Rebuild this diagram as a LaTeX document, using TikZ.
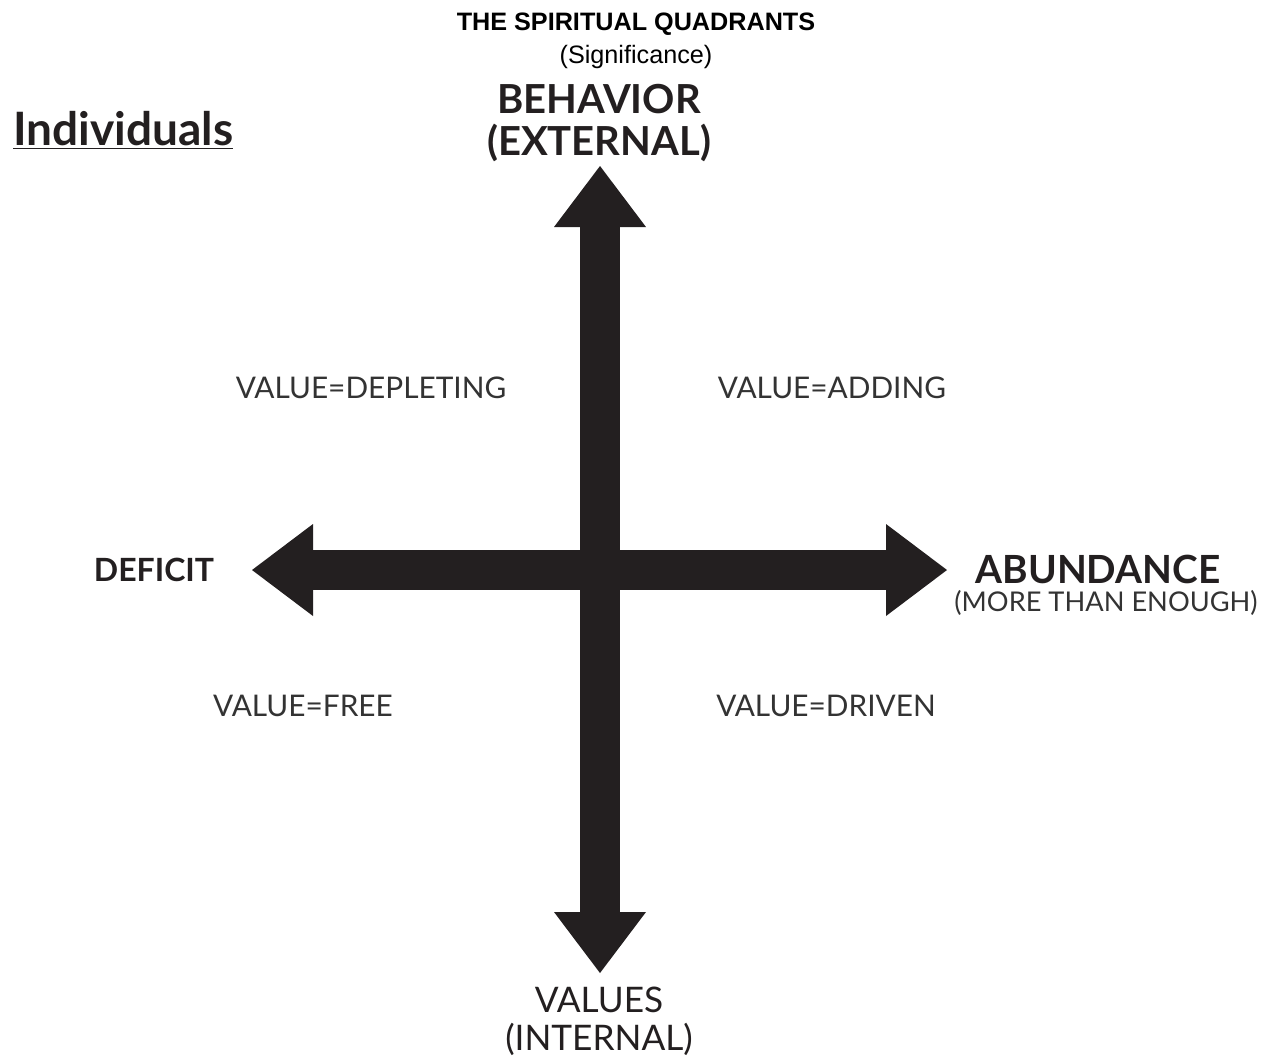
\documentclass[tikz,border=0pt]{standalone}
\usepackage{fontspec}
\setmainfont{Liberation Sans}
\newfontfamily\optfont{Lato}
\usetikzlibrary{arrows.meta, positioning}
\definecolor{ink}{HTML}{231F20}

\begin{document}
\begin{tikzpicture}[x=0.5pt, y=-0.5pt,
    heading/.style={font=\bfseries\fontsize{12.6}{14}\selectfont, inner sep=0pt},
    subheading/.style={font=\fontsize{12.6}{14}\selectfont, inner sep=0pt},
    axislabel/.style={font=\optfont\bfseries\fontsize{20}{21}\selectfont, align=center, inner sep=0pt, text=ink},
    quadlabel/.style={font=\optfont\fontsize{14.9}{16}\selectfont, inner sep=0pt, text=black!80},
    bigarrow/.style={line width=20pt, draw=ink, {Triangle[length=30.5pt, width=46pt, line width=0pt]}-{Triangle[length=30.5pt, width=46pt, line width=0pt]}}
  ]
  \useasboundingbox (0,0) rectangle (1271,1057);

  % titles
  \node[heading] (title) at (636,24) {THE SPIRITUAL QUADRANTS};
  \node[subheading] (subtitle) at (636,57) {(Significance)};
  \node[axislabel, font=\optfont\bfseries\fontsize{23}{24}\selectfont, anchor=base west] (individuals) at (13,145) {\underline{Individuals}};

  % axis labels
  \node[axislabel] (behavior) at (599,123) {BEHAVIOR\\(EXTERNAL)};
  \node[axislabel, font=\optfont\fontsize{17.6}{19}\selectfont] (values) at (599,1021) {VALUES\\(INTERNAL)};
  \node[axislabel, font=\optfont\bfseries\fontsize{16}{18}\selectfont] (deficit) at (154,570) {DEFICIT};
  \node[axislabel, font=\optfont\bfseries\fontsize{19.4}{21}\selectfont] (abundance) at (1098,569) {ABUNDANCE};
  \node[quadlabel, font=\optfont\fontsize{13.6}{15}\selectfont, below=3pt of abundance, xshift=4pt] (enough) {(MORE THAN ENOUGH)};

  % quadrants
  \node[quadlabel] (depleting) at (371,388) {VALUE=DEPLETING};
  \node[quadlabel] (adding) at (832,388) {VALUE=ADDING};
  \node[quadlabel] (free) at (303,706) {VALUE=FREE};
  \node[quadlabel] (driven) at (826,706) {VALUE=DRIVEN};

  % arrows
  \coordinate (up) at (600,166);
  \coordinate (down) at (600,973);
  \coordinate (left) at (252,570);
  \coordinate (right) at (947,570);
  \draw[bigarrow] (left) -- (right);
  \draw[bigarrow] (down) -- (up);
\end{tikzpicture}
\end{document}
